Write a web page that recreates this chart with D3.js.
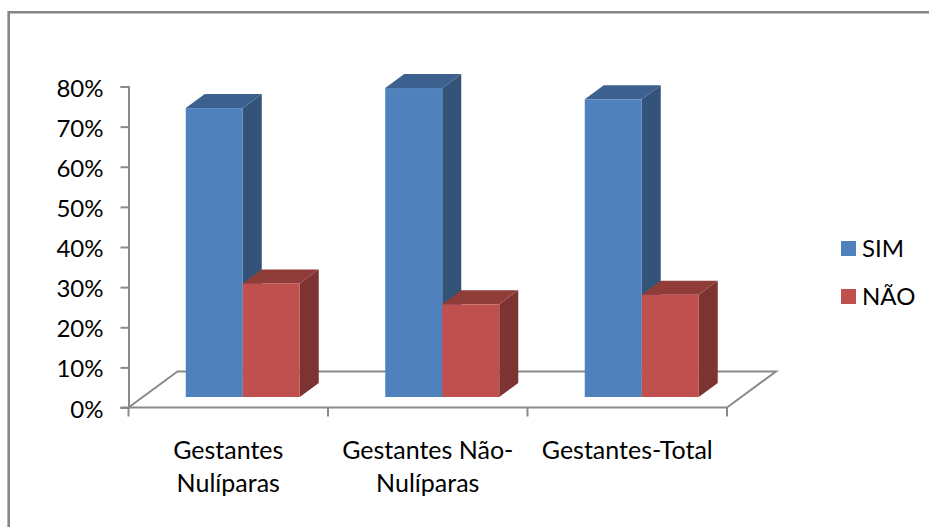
<!DOCTYPE html>
<html>
<head>
<meta charset="utf-8">
<script src="https://cdn.jsdelivr.net/npm/d3@7"></script>
<style>
  html, body { margin: 0; padding: 0; background: #fff; }
  text { font-family: Lato, "Open Sans", sans-serif; fill: #000; }
</style>
</head>
<body>
<div id="chart"></div>
<script>
const categories = [["Gestantes", "Nulíparas"], ["Gestantes Não-", "Nulíparas"], ["Gestantes-Total"]];
const seriesNames = ["SIM", "NÃO"];
const sim = [72, 77, 74.2];
const nao = [28.3, 23.1, 25.5];
const yTicks = [0, 10, 20, 30, 40, 50, 60, 70, 80];

const faceColors = { SIM: "#4f81bd", "NÃO": "#c0504d" };
const sideColors = { SIM: "#335379", "NÃO": "#7c3331" };
const topColors = { SIM: "#3d618e", "NÃO": "#903c39" };
const axisColor = "#8a8a8a";

const width = 929, height = 527;
// the floor of the 3D box runs back by this offset
const depth = { x: 49, y: -36 };

const svg = d3.select("#chart").append("svg")
    .attr("width", width)
    .attr("height", height)
    .style("display", "block");

// chart frame
svg.append("path")
    .attr("d", "M8.7,527V12.3H929")
    .attr("fill", "none")
    .attr("stroke", "#868686")
    .attr("stroke-width", 2.6);

const y = d3.scaleLinear().domain([0, 80]).range([407.5, 86.5]);
const x = d3.scaleBand().domain(d3.range(categories.length)).range([128.5, 727]);
const barX = d3.scaleBand().domain(seriesNames).range([0, 114]);

// floor
const floorY = y(0);
svg.append("path")
    .attr("d", `M${x.range()[0]},${floorY}L${x.range()[0] + depth.x},${floorY + depth.y}H${x.range()[1] + depth.x}L${x.range()[1]},${floorY}`)
    .attr("fill", "none")
    .attr("stroke", axisColor)
    .attr("stroke-width", 2);

// y axis
const yAxis = svg.append("g")
    .attr("transform", `translate(${x.range()[0]},0)`)
    .style("font-size", "24px")
    .call(d3.axisLeft(y).tickValues(yTicks).tickFormat(d => d + "%").tickSize(8).tickPadding(17));
yAxis.select(".domain").attr("stroke", axisColor).attr("stroke-width", 2);
yAxis.selectAll(".tick line").attr("stroke", axisColor).attr("stroke-width", 2);
yAxis.selectAll(".tick text").attr("fill", "#000").attr("dy", "0.4em");

// x axis
const xAxis = svg.append("g").attr("transform", `translate(0,${floorY})`);
xAxis.append("line")
    .attr("x1", x.range()[0] - 8).attr("x2", x.range()[1])
    .attr("stroke", axisColor).attr("stroke-width", 2);
xAxis.selectAll(".xtick")
    .data(d3.range(categories.length + 1))
    .join("line")
    .attr("class", "xtick")
    .attr("x1", i => x.range()[0] + i * x.step())
    .attr("x2", i => x.range()[0] + i * x.step())
    .attr("y2", 9)
    .attr("stroke", axisColor).attr("stroke-width", 2);

// bars, back to front so the red block covers the blue side
const barOffset = { x: 14.5, y: -10.5 };
const barDepth = { x: 19, y: -14 };

function drawBar(name, values) {
    const g = svg.append("g");
    values.forEach((v, i) => {
        const x0 = x(i) + (x.bandwidth() - barX.step() * 2) / 2 + barOffset.x + barX(name);
        const x1 = x0 + barX.bandwidth();
        const yTop = y(v) + barOffset.y;
        const yBase = y(0) + barOffset.y;
        g.append("path") // side
            .attr("d", `M${x1},${yTop}l${barDepth.x},${barDepth.y}V${yBase + barDepth.y}L${x1},${yBase}Z`)
            .attr("fill", sideColors[name]);
        g.append("path") // top
            .attr("d", `M${x0},${yTop}l${barDepth.x},${barDepth.y}H${x1 + barDepth.x}L${x1},${yTop}Z`)
            .attr("fill", topColors[name]);
        g.append("rect") // front
            .attr("x", x0).attr("y", yTop)
            .attr("width", x1 - x0).attr("height", yBase - yTop)
            .attr("fill", faceColors[name]);
    });
}
drawBar("SIM", sim);
drawBar("NÃO", nao);

// category labels
categories.forEach((lines, i) => {
    const t = svg.append("text")
        .attr("text-anchor", "middle")
        .style("font-size", "25px");
    lines.forEach((line, j) => {
        t.append("tspan")
            .attr("x", x(i) + x.bandwidth() / 2)
            .attr("y", 459 + j * 33)
            .text(line);
    });
});

// legend
const legendY = d3.scalePoint().domain(seriesNames).range([248.5, 296.5]);
seriesNames.forEach(name => {
    svg.append("rect")
        .attr("x", 841).attr("y", legendY(name) - 7.5)
        .attr("width", 15).attr("height", 15)
        .attr("fill", faceColors[name]);
    svg.append("text")
        .attr("x", 862).attr("y", legendY(name) + 8.5)
        .style("font-size", "24px")
        .text(name);
});
</script>
</body>
</html>
